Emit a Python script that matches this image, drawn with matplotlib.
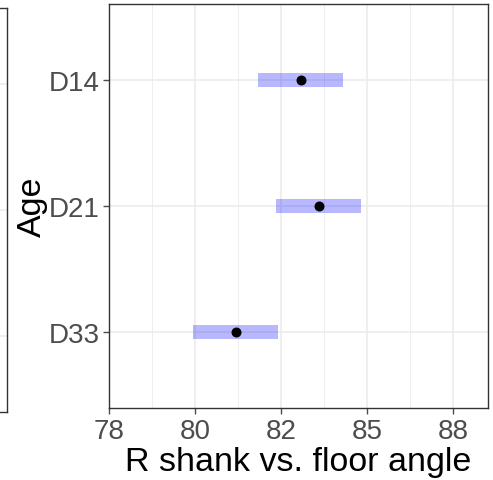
import matplotlib
matplotlib.use("Agg")
import matplotlib.pyplot as plt
import numpy as np

ages = ["D14", "D21", "D33"]
means = [83.07, 83.60, 81.20]
ci_low = [81.83, 82.36, 79.95]
ci_high = [84.31, 84.83, 82.40]

x_ticks = [77.5, 80.0, 82.5, 85.0, 87.5]
x_ticklabels = ["78", "80", "82", "85", "88"]
x_minor = [78.75, 81.25, 83.75, 86.25]

plt.rcParams["font.family"] = ["Liberation Sans", "DejaVu Sans"]
W, H = 493, 481
fig = plt.figure(figsize=(W / 100, H / 100), dpi=100)

grid_c = "#EBEBEB"
border_c = "#333333"
tick_c = "#4D4D4D"

# main panel
l, r, t, b = 109, 488, 5, 409
ax = fig.add_axes([l / W, 1 - b / H, (r - l) / W, (b - t) / H])
ypos = np.arange(len(ages))[::-1] + 1  # D14 on top
ax.set_xlim(77.5, 88.52)
ax.set_ylim(0.4, 3.6)
ax.set_xticks(x_ticks)
ax.set_xticklabels(x_ticklabels)
ax.set_xticks(x_minor, minor=True)
ax.set_yticks(ypos)
ax.set_yticklabels(ages)
ax.grid(True, which="major", color=grid_c, lw=1.1)
ax.grid(True, which="minor", axis="x", color=grid_c, lw=0.6)
ax.set_axisbelow(True)

lo = np.array(ci_low)
hi = np.array(ci_high)
ax.barh(ypos, hi - lo, left=lo, height=0.11, color="blue", alpha=0.28, lw=0, zorder=2)
ax.scatter(means, ypos, s=38, color="black", zorder=3)

for s in ax.spines.values():
    s.set_color(border_c)
    s.set_linewidth(1.0)
ax.tick_params(which="major", length=4, width=1, color=tick_c, labelcolor=tick_c,
               labelsize=20, pad=3)
ax.tick_params(which="minor", length=0)
ax.set_xlabel("R shank vs. floor angle", fontsize=24.5, color="black", labelpad=2)
ax.set_ylabel("Age", fontsize=24.5, color="black", labelpad=0)

# right edge of the neighbouring panel
ax2 = fig.add_axes([-200 / W, 1 - 413 / H, 207 / W, (413 - 9) / H])
ax2.set_ylim(0.4, 3.6)
ax2.set_yticks(ypos + 0.0)
ax2.set_xticks([])
ax2.tick_params(length=0, labelleft=False)
ax2.grid(True, axis="y", color=grid_c, lw=1.1)
for s in ax2.spines.values():
    s.set_color(border_c)
    s.set_linewidth(1.0)

fig.savefig("out.png", dpi=100, facecolor="white")
